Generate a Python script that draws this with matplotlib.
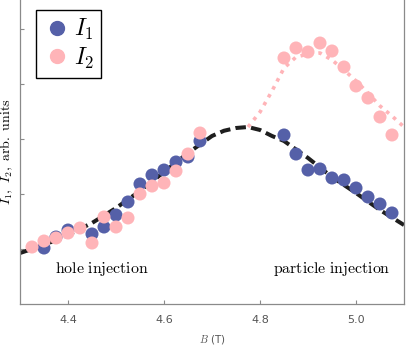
import matplotlib
matplotlib.use("Agg")
import matplotlib.pyplot as plt
from matplotlib.lines import Line2D

plt.rcParams['mathtext.fontset'] = 'cm'

# --- data ---
b1_left = [4.35, 4.375, 4.4, 4.45, 4.475, 4.5, 4.525, 4.55, 4.575, 4.6, 4.625, 4.65, 4.675]
i1_left = [1.018, 1.218, 1.345, 1.273, 1.40, 1.618, 1.855, 2.182, 2.345, 2.436, 2.582, 2.673, 2.964]
b2_left = [4.325, 4.35, 4.375, 4.4, 4.425, 4.45, 4.475, 4.5, 4.525, 4.55, 4.575, 4.6, 4.625, 4.65, 4.675]
i2_left = [1.036, 1.145, 1.20, 1.291, 1.382, 1.109, 1.582, 1.40, 1.564, 2.0, 2.145, 2.2, 2.418, 2.727, 3.109]

b_right = [4.85, 4.875, 4.9, 4.925, 4.95, 4.975, 5.0, 5.025, 5.05, 5.075]
i1_right = [3.073, 2.727, 2.436, 2.455, 2.291, 2.255, 2.109, 1.945, 1.818, 1.655]
i2_right = [4.473, 4.655, 4.582, 4.745, 4.60, 4.309, 3.964, 3.745, 3.40, 3.073]

fit_b = [4.3, 4.35, 4.4, 4.45, 4.5, 4.55, 4.6, 4.65, 4.7, 4.725, 4.75, 4.775, 4.8, 4.825, 4.85,
         4.9, 4.95, 5.0, 5.05, 5.1]
fit_i1 = [0.927, 1.073, 1.255, 1.473, 1.745, 2.055, 2.40, 2.745, 3.055, 3.15, 3.20, 3.218, 3.164,
          3.055, 2.964, 2.655, 2.309, 2.018, 1.709, 1.436]
fit2_b = [4.775, 4.8, 4.825, 4.85, 4.875, 4.9, 4.925, 4.95, 4.975, 5.0, 5.025, 5.05, 5.075, 5.1]
fit_i2 = [3.218, 3.49, 3.873, 4.29, 4.49, 4.545, 4.564, 4.436, 4.255, 4.055, 3.836, 3.60, 3.418, 3.218]

xticks = [4.4, 4.6, 4.8, 5.0]
xtick_labels = ["4.4", "4.6", "4.8", "5.0"]
yticks = [1, 2, 3, 4, 5]

blue = "#5560a8"
pink = "#ffb4b8"
gray = "#8a8a8a"

fig = plt.figure(figsize=(4.11, 3.46), dpi=100)
ax = fig.add_axes([20/411, 42/346, 384/411, 304/346])

ax.plot(fit_b, fit_i1, color="#1e1e1e", lw=2.9, dashes=(2.6, 1.3), zorder=2)
ax.plot(fit2_b, fit_i2, color=pink, lw=2.6, dashes=(1.0, 1.5), zorder=2)

ms = 88
ax.scatter(b1_left + b_right, i1_left + i1_right, s=ms, color=blue, edgecolors='none', zorder=3)
ax.scatter(b2_left + b_right, i2_left + i2_right, s=ms, color=pink, edgecolors='none', zorder=4)

ax.set_xlim(4.3, 5.1)
ax.set_ylim(0, 304/55)
ax.set_xticks(xticks)
ax.set_xticklabels(xtick_labels)
ax.set_yticks(yticks)
ax.tick_params(axis='y', direction='in', length=3, color=gray, labelleft=False)
ax.tick_params(axis='x', direction='in', length=3, color=gray, labelsize=8, labelcolor="#555555", pad=8)

for s in ['left', 'bottom', 'right']:
    ax.spines[s].set_color(gray)
    ax.spines[s].set_linewidth(0.9)
ax.spines['top'].set_visible(False)

ax.set_xlabel(r"$B$ (T)", fontsize=7.5, color="#555555", labelpad=6)
ax.set_ylabel(r"$I_1,\ I_2,\ \mathrm{arb.\ units}$", fontsize=10)
ax.yaxis.set_label_coords(-0.012, 0.5)

ax.text(4.47, 0.636, r"$\mathrm{hole\ injection}$", fontsize=11.4, ha='center', va='center')
ax.text(4.95, 0.636, r"$\mathrm{particle\ injection}$", fontsize=11.4, ha='center', va='center')

handles = [Line2D([], [], ls='none', marker='o', ms=10, color=blue),
           Line2D([], [], ls='none', marker='o', ms=10, color=pink)]
leg = ax.legend(handles, [r"$I_1$", r"$I_2$"], loc='upper left',
                bbox_to_anchor=(16/384, 1 - 10/304), borderaxespad=0,
                fontsize=17, fancybox=False, edgecolor='black', framealpha=1,
                handletextpad=0.1, handlelength=1.2, labelspacing=0.15, borderpad=0.3)
leg.get_frame().set_linewidth(1.0)

fig.savefig("out.png", dpi=100)
